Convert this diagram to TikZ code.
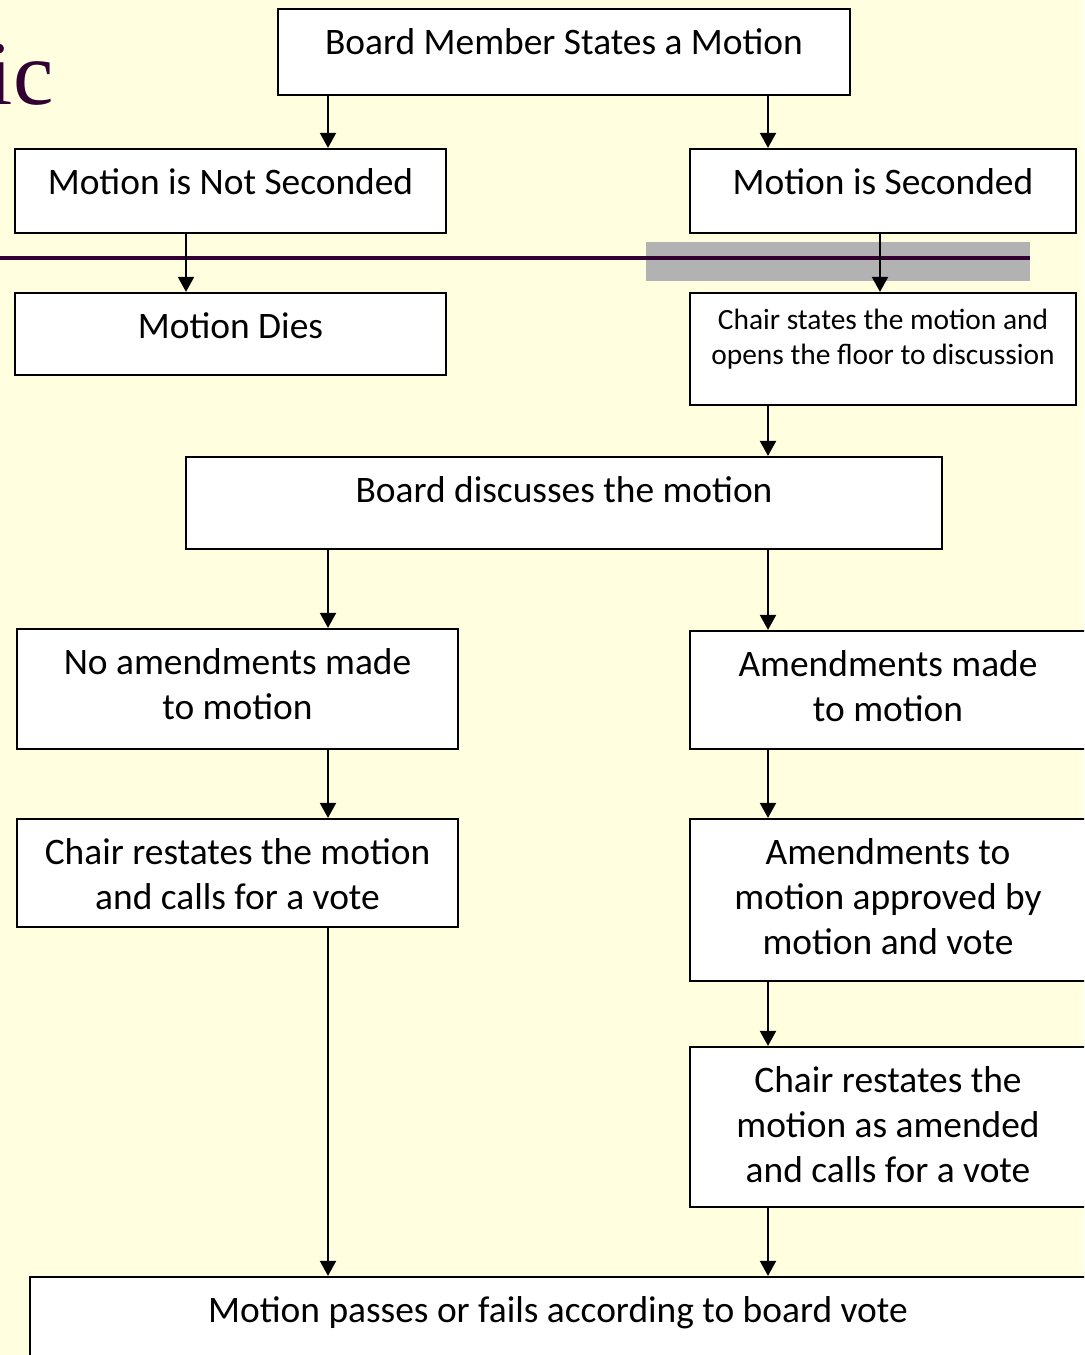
\documentclass[tikz,border=0pt]{standalone}
\usepackage{fontspec}
\setmainfont{Carlito}
\newfontfamily\titlefont{Liberation Serif}
\usetikzlibrary{arrows.meta}

\definecolor{slidebg}{RGB}{255,255,224}
\definecolor{titlepurple}{RGB}{51,0,51}
\definecolor{bargray}{RGB}{178,178,178}

\begin{document}
\begin{tikzpicture}[x=0.5pt, y=-0.5pt]
  \tikzset{box/.style={rectangle, draw, fill=white, line width=1.1pt, inner sep=0pt}}
  \tikzset{captionbase/.style={anchor=north, align=center, inner sep=0pt}}
  \tikzset{caption/.style={captionbase, yshift=-10.2pt, font=\fontsize{18.7}{22.5}\selectfont}}
  \tikzset{smallcaption/.style={captionbase, yshift=-8.6pt, font=\fontsize{14.7}{17.5}\selectfont}}
  \tikzset{arr/.style={line width=1pt, -{Triangle[length=7.5pt, width=8pt]}}}

  \useasboundingbox (0,0) rectangle (1084,1355);
  \clip (0,0) rectangle (1084,1355);
  \fill[slidebg] (0,0) rectangle (1084,1355);

  % slide title remains
  \node[anchor=base east, inner sep=0pt, text=titlepurple,
    font=\titlefont\fontsize{45.5}{50}\selectfont] (title) at (54,104) {ic};
  \fill[bargray] (646,242) rectangle (1030,281);
  \draw[titlepurple, line width=1.8pt] (0,258) -- (1030,258);

  \coordinate (colA) at (328,0);
  \coordinate (colB) at (768,0);
  \coordinate (colC) at (186,0);
  \coordinate (colD) at (880,0);

  \node[box, minimum width=286pt, minimum height=43pt,
    label={[caption]north:Board Member States a Motion}] (states) at (564,52) {};
  \node[box, minimum width=215.5pt, minimum height=42pt,
    label={[caption]north:Motion is Not Seconded}] (notsec) at (230.5,191) {};
  \node[box, minimum width=193pt, minimum height=42pt,
    label={[caption]north:Motion is Seconded}] (sec) at (883,191) {};
  \node[box, minimum width=215.5pt, minimum height=41pt,
    label={[caption]north:Motion Dies}] (dies) at (230.5,334) {};
  \node[box, minimum width=193pt, minimum height=56pt,
    label={[smallcaption]north:Chair states the motion and\\opens the floor to discussion}] (opens) at (883,349) {};
  \node[box, minimum width=378pt, minimum height=46pt,
    label={[caption]north:Board discusses the motion}] (discuss) at (564,503) {};
  \node[box, minimum width=220.5pt, minimum height=60pt,
    label={[caption]north:No amendments made\\to motion}] (noamend) at (237.5,689) {};
  \node[box, minimum width=198pt, minimum height=59pt,
    label={[caption]north:Amendments made\\to motion}] (amend) at (888,690) {};
  \node[box, minimum width=220.5pt, minimum height=54pt,
    label={[caption]north:Chair restates the motion\\and calls for a vote}] (restate) at (237.5,873) {};
  \node[box, minimum width=198pt, minimum height=81pt,
    label={[caption]north:Amendments to\\motion approved by\\motion and vote}] (approve) at (888,900) {};
  \node[box, minimum width=198pt, minimum height=80pt,
    label={[caption]north:Chair restates the\\motion as amended\\and calls for a vote}] (restate2) at (888,1127) {};
  \node[box, minimum width=528pt, minimum height=49pt,
    label={[caption]north:Motion passes or fails according to board vote}] (result) at (558,1326) {};

  \draw[arr] (states.south -| colA) -- (notsec.north -| colA);
  \draw[arr] (states.south -| colB) -- (sec.north -| colB);
  \draw[arr] (notsec.south -| colC) -- (dies.north -| colC);
  \draw[arr] (sec.south -| colD) -- (opens.north -| colD);
  \draw[arr] (opens.south -| colB) -- (discuss.north -| colB);
  \draw[arr] (discuss.south -| colA) -- (noamend.north -| colA);
  \draw[arr] (discuss.south -| colB) -- (amend.north -| colB);
  \draw[arr] (noamend.south -| colA) -- (restate.north -| colA);
  \draw[arr] (amend.south -| colB) -- (approve.north -| colB);
  \draw[arr] (approve.south -| colB) -- (restate2.north -| colB);
  \draw[arr] (restate.south -| colA) -- (result.north -| colA);
  \draw[arr] (restate2.south -| colB) -- (result.north -| colB);
\end{tikzpicture}
\end{document}
